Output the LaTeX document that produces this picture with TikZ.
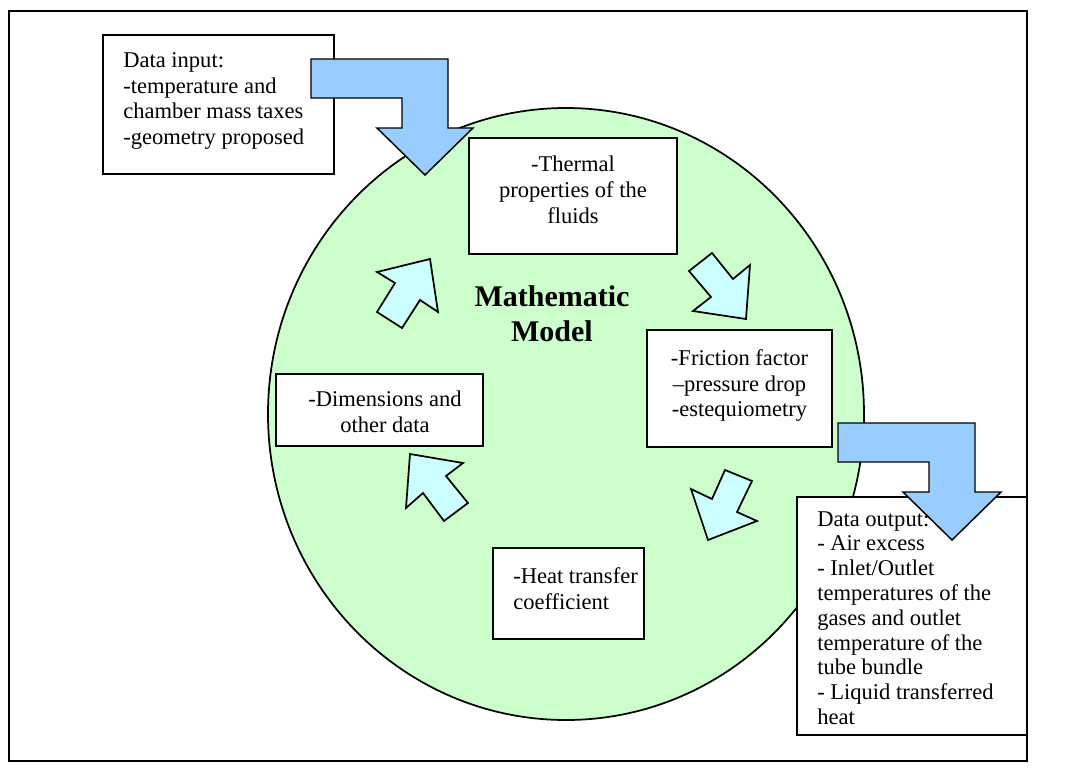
\documentclass[tikz,border=0pt]{standalone}
\usepackage{fontspec}
\setmainfont{Liberation Serif}
\definecolor{circgreen}{HTML}{CCFFCC}
\definecolor{smallcyan}{HTML}{CCFFFF}
\definecolor{bigblue}{HTML}{99CCFF}
\tikzset{
  box/.style={draw=black, line width=1.3pt, fill=white, inner sep=0pt},
  txt/.style={inner sep=0pt, font=\fontsize{16.9}{19.4}\selectfont},
  outtxt/.style={inner sep=0pt, font=\fontsize{16.9}{18.6}\selectfont},
  mathtxt/.style={inner sep=0pt, font=\fontsize{22.5}{26.2}\selectfont\bfseries},
  smallarrow/.style={draw=black, line width=1.3pt, fill=smallcyan, line join=miter},
  bigarrow/.style={draw=black, line width=1.1pt, fill=bigblue, line join=miter},
}
\begin{document}
\begin{tikzpicture}[x=0.75pt,y=-0.75pt]
\useasboundingbox (0,0) rectangle (1065,783);
% frame
\draw[line width=1.6pt] (9,11) rectangle (1027,761);
% circle
\draw[line width=1.3pt, fill=circgreen] (566,414) ellipse [x radius=223.5pt, y radius=229.5pt];
% boxes
\node[box, minimum width=173.25pt, minimum height=104.25pt] (inbox) at (218.5,104.5) {};
\node[box, minimum width=156pt, minimum height=87pt] (thermal) at (573,196) {};
\node[box, minimum width=138.75pt, minimum height=87.75pt] (friction) at (739.5,388.5) {};
\node[box, minimum width=155.25pt, minimum height=54pt] (dims) at (379.5,410) {};
\node[box, minimum width=113.25pt, minimum height=68.25pt] (heat) at (568.5,593.5) {};
\node[box, minimum width=172.5pt, minimum height=178.5pt] (outbox) at (912,616) {};
% texts
\node[txt, anchor=north west, align=left] (intext) at (123,52) {Data input:\\-temperature and\\chamber mass taxes\\-geometry proposed};
\node[txt, anchor=north, align=center] (thermaltext) at (573,156) {-Thermal\\properties of the\\fluids};
\node[txt, anchor=north, align=center] (frictiontext) at (739.5,349) {-Friction factor\\–pressure drop\\-estequiometry};
\node[txt, anchor=north, align=center] (dimstext) at (385,391) {-Dimensions and\\other data};
\node[txt, anchor=north west, align=left] (heattext) at (513,567) {-Heat transfer\\coefficient};
\node[outtxt, anchor=north west, align=left] (outtext) at (817,511) {Data output:\\- Air excess\\- Inlet/Outlet\\temperatures of the\\gases and outlet\\temperature of the\\tube bundle\\- Liquid transferred\\heat};
\node[mathtxt, anchor=north, align=center] (mathmodel) at (552,285) {Mathematic\\Model};
% small cycle arrows
\draw[smallarrow] (430,259) -- (438,312) -- (420,300) -- (402,328) -- (377,312) -- (395,283) -- (377,272) -- cycle;
\draw[smallarrow] (712,253) -- (733,279) -- (750,265) -- (746,319) -- (693,311) -- (711,297) -- (689,271) -- cycle;
\draw[smallarrow] (725,470) -- (752,481) -- (737,512) -- (757,521) -- (708,540) -- (691,489) -- (712,499) -- cycle;
\draw[smallarrow] (410,454) -- (463,463) -- (446,476) -- (468,503) -- (444,521) -- (423,493) -- (406,508) -- cycle;
% big input / output arrows
\draw[bigarrow] (311,59) -- (448,59) -- (448,128) -- (473,128) -- (425,175) -- (377,128) -- (402,128) -- (402,98) -- (311,98) -- cycle;
\draw[bigarrow] (838,423) -- (975,423) -- (975,492) -- (1001,492) -- (952,540) -- (903,492) -- (929,492) -- (929,462) -- (838,462) -- cycle;
\end{tikzpicture}
\end{document}
